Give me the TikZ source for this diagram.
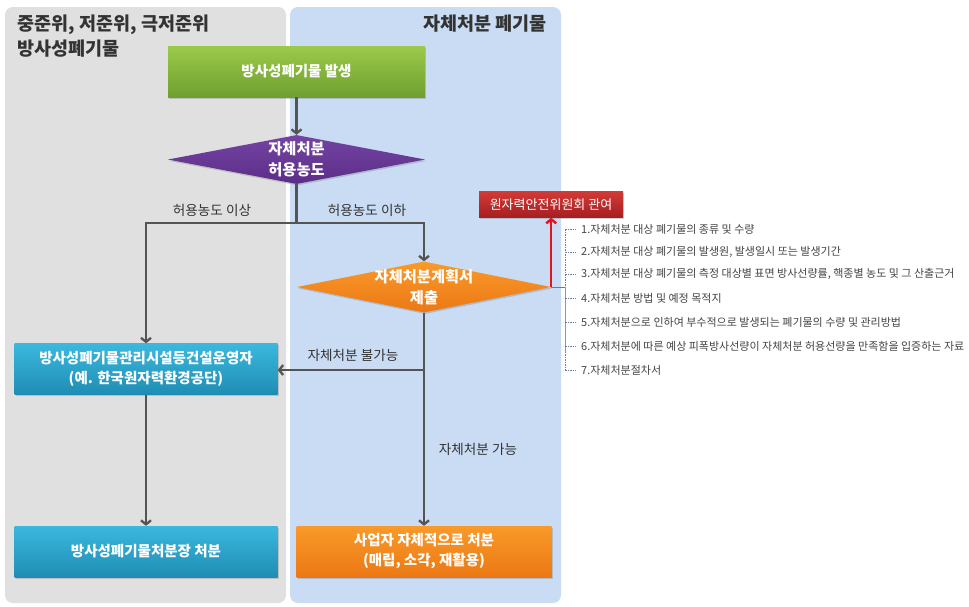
\documentclass[tikz,border=0pt]{standalone}
\usepackage{fontspec}
\setmainfont{Noto Sans CJK KR}
\usetikzlibrary{shapes.geometric,arrows.meta,shadows}
\definecolor{graypanel}{HTML}{E0E0E0}
\definecolor{bluepanel}{HTML}{C9DCF4}
\definecolor{linegray}{HTML}{545454}
\definecolor{txt}{HTML}{333333}
\definecolor{listtxt}{HTML}{444444}
\definecolor{greenT}{HTML}{9CCA4B}
\definecolor{greenB}{HTML}{6F9F2F}
\definecolor{purpT}{HTML}{7544A3}
\definecolor{purpB}{HTML}{5B2D88}
\definecolor{oranT}{HTML}{F99A2A}
\definecolor{oranB}{HTML}{EC7814}
\definecolor{blueT}{HTML}{3BB8DE}
\definecolor{blueB}{HTML}{1F8DB3}
\definecolor{redT}{HTML}{D23A36}
\definecolor{redB}{HTML}{A61E22}
\definecolor{redarrow}{HTML}{E2141E}
\definecolor{bracket}{HTML}{6A7C9C}
\tikzset{
  shad/.style={drop shadow={opacity=0.35,shadow xshift=1pt,shadow yshift=-1.5pt}},
  boxnode/.style={rectangle, shad, minimum height=51pt, inner sep=0pt, text=white, align=center,
    font=\bfseries\fontsize{14.5}{20}\selectfont},
  dianode/.style={diamond, shad, inner sep=0pt},
  diatext/.style={text=white, align=center, font=\bfseries\fontsize{15.3}{21}\selectfont},
  lbl/.style={text=txt, font=\fontsize{13.6}{16}\selectfont},
  title/.style={text=txt, align=left, font=\bfseries\fontsize{18.5}{25}\selectfont},
  item/.style={anchor=west, text=listtxt, inner sep=0pt, font=\fontsize{11}{13}\selectfont},
  arr/.style={draw=linegray, line width=2.3pt, -{Straight Barb[length=4pt,width=10pt]}},
  ln/.style={draw=linegray, line width=2.3pt},
  redarr/.style={draw=redarrow, line width=2.5pt, -{Straight Barb[length=4pt,width=10pt]}},
  tick/.style={draw=bracket, line width=0.6pt, dash pattern=on 1.5pt off 1pt}
}
\begin{document}
\begin{tikzpicture}[x=1pt,y=-1pt]
\useasboundingbox (0,0) rectangle (969,606);
\fill[white] (0,0) rectangle (969,606);
% panels
\fill[graypanel, rounded corners=8pt] (5,7) rectangle (286,603);
\fill[bluepanel, rounded corners=8pt] (290,7) rectangle (561,603);
\node[title, anchor=north west] (tl) at (14,11) {중준위, 저준위, 극저준위\\방사성폐기물};
\node[title, anchor=north east] (tr) at (550,11) {자체처분 폐기물};
% boxes
\node[boxnode, minimum width=257pt, top color=greenT, bottom color=greenB] (g) at (296.5,71.5) {방사성폐기물 발생};
\node[dianode, minimum width=257pt, minimum height=49pt, top color=purpT, bottom color=purpB] (d1) at (296.5,159.5) {};
\node[diatext] (d1t) at (d1.center) {자체처분\\허용농도};
\node[dianode, minimum width=254pt, minimum height=51pt, top color=oranT, bottom color=oranB] (d2) at (424,287) {};
\node[diatext] (d2t) at (d2.center) {자체처분계획서\\제출};
\node[rectangle, shad, minimum width=144pt, minimum height=26pt, inner sep=0pt, top color=redT, bottom color=redB,
  text=white, font=\fontsize{13}{15}\selectfont] (r) at (551,204.5) {원자력안전위원회 관여};
\node[boxnode, minimum width=263pt, top color=blueT, bottom color=blueB] (b1) at (146,369) {방사성폐기물관리시설등건설운영자\\(예. 한국원자력환경공단)};
\node[boxnode, minimum width=263pt, top color=blueT, bottom color=blueB] (b2) at (146,551.5) {방사성폐기물처분장 처분};
\node[boxnode, minimum width=255pt, top color=oranT, bottom color=oranB] (o1) at (424,551.5) {사업자 자체적으로 처분\\(매립, 소각, 재활용)};
% connectors
\coordinate (j1) at (296.5,223);
\coordinate (j2) at (424,370);
\draw[arr] (g.south) -- (d1.north);
\draw[ln] (d1.south) -- (j1);
\draw[arr] (j1) -| (b1.north);
\draw[arr] (j1) -| (d2.north);
\draw[arr] (d2.south) -- (o1.north);
\draw[arr] (j2) -- (b1.east |- j2);
\draw[arr] (b1.south) -- (b2.north);
\draw[redarr] (d2.east) -- (d2.east |- r.south);
% labels
\node[lbl] (l1) at (212,210) {허용농도 이상};
\node[lbl] (l2) at (367,210) {허용농도 이하};
\node[lbl] (l3) at (353,355) {자체처분 불가능};
\node[lbl] (l4) at (478,449) {자체처분 가능};
% bracket list
\coordinate (bt) at (565,229);
\coordinate (bm) at (565,287);
\coordinate (bb) at (565,370);
\draw[draw=bracket, line width=0.8pt] (d2.east) -- (bm);
\draw[tick] (bt) -- (bb);
\draw[draw=bracket!80, line width=0.8pt] (bm) -- (565,352);
\foreach \i/\y/\t in {1/229/{1.자체처분 대상 폐기물의 종류 및 수량},
  2/252/{2.자체처분 대상 폐기물의 발생원, 발생일시 또는 발생기간},
  3/274/{3.자체처분 대상 폐기물의 측정 대상별 표면 방사선량률, 핵종별 농도 및 그 산출근거},
  4/298/{4.자체처분 방법 및 예정 목적지},
  5/322/{5.자체처분으로 인하여 부수적으로 발생되는 폐기물의 수량 및 관리방법},
  6/346/{6.자체처분에 따른 예상 피폭방사선량이 자체처분 허용선량을 만족함을 입증하는 자료},
  7/370/{7.자체처분절차서}}{
  \draw[tick] (565,\y) -- (576,\y);
  \node[item] (it\i) at (581,\y) {\t};
}
\end{tikzpicture}
\end{document}
